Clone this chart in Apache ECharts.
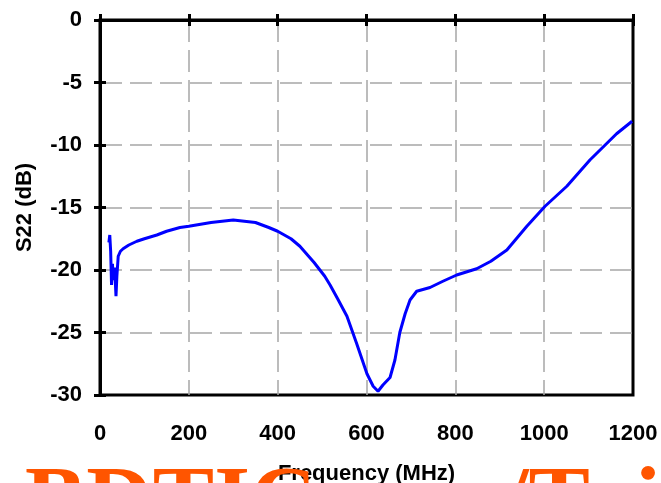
<!DOCTYPE html>
<html>
<head>
<meta charset="utf-8">
<script src="https://cdn.jsdelivr.net/npm/echarts@6/dist/echarts.min.js"></script>
<style>
  html, body { margin: 0; padding: 0; background: #fff; }
  #chart { width: 661px; height: 483px; }
</style>
</head>
<body>
<div id="chart"></div>
<script>
const freqMHz = [
  20, 22, 24, 26, 28, 30, 33, 36, 38, 41, 46, 52, 65, 83, 100, 128, 150, 180,
  200, 250, 300, 350, 380, 400, 430, 450, 482, 506, 518, 535, 556, 578, 601,
  615, 626, 637, 653, 664, 675, 687, 698, 713, 743, 772, 803, 848, 880, 916,
  961, 1002, 1051, 1103, 1163, 1198
]
const s22dB = [
  -17.8, -17.2, -18.5, -21.2, -19.5, -20.8, -19.8, -22.1, -20.5, -18.9, -18.5, -18.3, -18.0, -17.7, -17.5, -17.2, -16.9, -16.6,
  -16.5, -16.2, -16.0, -16.2, -16.6, -16.9, -17.5, -18.1, -19.4, -20.5, -21.2, -22.3, -23.7, -25.9, -28.3,
  -29.3, -29.7, -29.2, -28.6, -27.2, -25.0, -23.5, -22.4, -21.7, -21.4, -20.9, -20.4, -19.9, -19.3, -18.4,
  -16.5, -14.9, -13.3, -11.2, -9.1, -8.1
]
const xTicks = [0, 200, 400, 600, 800, 1000, 1200]
const yTicks = [-30, -25, -20, -15, -10, -5, 0]

const chart = echarts.init(document.getElementById('chart'))

const font = 'Liberation Sans, Arial, sans-serif'
const labelStyle = { color: '#000', fontFamily: font, fontWeight: 'bold', fontSize: 22 }
const gridDash = { color: '#a6a6a6', width: 1.5, type: [22, 8] }
const blackLine = { color: '#000', width: 3 }

const xBase = { type: 'value', min: xTicks[0], max: xTicks[xTicks.length - 1], interval: 200, position: 'bottom' }
const yBase = { type: 'value', min: yTicks[0], max: yTicks[yTicks.length - 1], interval: 5, position: 'left' }

const option = {
  animation: false,
  grid: {
    left: 100, right: 28, top: 20, bottom: 88,
    outerBoundsMode: 'none', containLabel: false,
    show: true, borderColor: '#000', borderWidth: 3
  },
  xAxis: [
    {
      ...xBase,
      name: 'Frequency (MHz)',
      nameLocation: 'middle',
      nameGap: 68,
      nameTextStyle: { ...labelStyle, fontSize: 22 },
      axisLine: { lineStyle: blackLine },
      axisTick: { length: 6, lineStyle: blackLine },
      axisLabel: { ...labelStyle, margin: 28, formatter: (v) => String(v) },
      splitLine: { show: true, showMinLine: false, showMaxLine: false, lineStyle: gridDash }
    },
    {
      ...xBase,
      axisLine: { show: false },
      axisTick: { inside: true, length: 6, lineStyle: blackLine },
      axisLabel: { show: false },
      splitLine: { show: false }
    }
  ],
  yAxis: [
    {
      ...yBase,
      name: 'S22 (dB)',
      nameLocation: 'middle',
      nameGap: 64,
      nameTextStyle: { ...labelStyle, fontSize: 22 },
      axisLine: { lineStyle: blackLine },
      axisTick: { length: 6, lineStyle: blackLine },
      axisLabel: { ...labelStyle, margin: 18 },
      splitLine: { show: true, showMinLine: false, showMaxLine: false, lineStyle: gridDash }
    },
    {
      ...yBase,
      axisLine: { show: false },
      axisTick: { inside: true, length: 6, lineStyle: blackLine },
      axisLabel: { show: false },
      splitLine: { show: false }
    }
  ],
  series: [
    {
      type: 'line',
      data: freqMHz.map((f, i) => [f, s22dB[i]]),
      showSymbol: false,
      lineStyle: { color: '#0000ff', width: 3 },
      z: 5
    }
  ],
  graphic: [
    {
      type: 'text',
      left: 25,
      top: 459,
      z: 100,
      style: {
        text: 'BDTIC.com/T',
        fill: '#ff5500',
        fontFamily: 'Liberation Serif, Times New Roman, serif',
        fontWeight: 'bold',
        fontSize: 92
      }
    },
    {
      type: 'text',
      left: 635,
      top: 459,
      z: 100,
      style: {
        text: 'i',
        fill: '#ff5500',
        fontFamily: 'Liberation Serif, Times New Roman, serif',
        fontWeight: 'bold',
        fontSize: 92
      }
    }
  ]
}

chart.setOption(option)
</script>
</body>
</html>
